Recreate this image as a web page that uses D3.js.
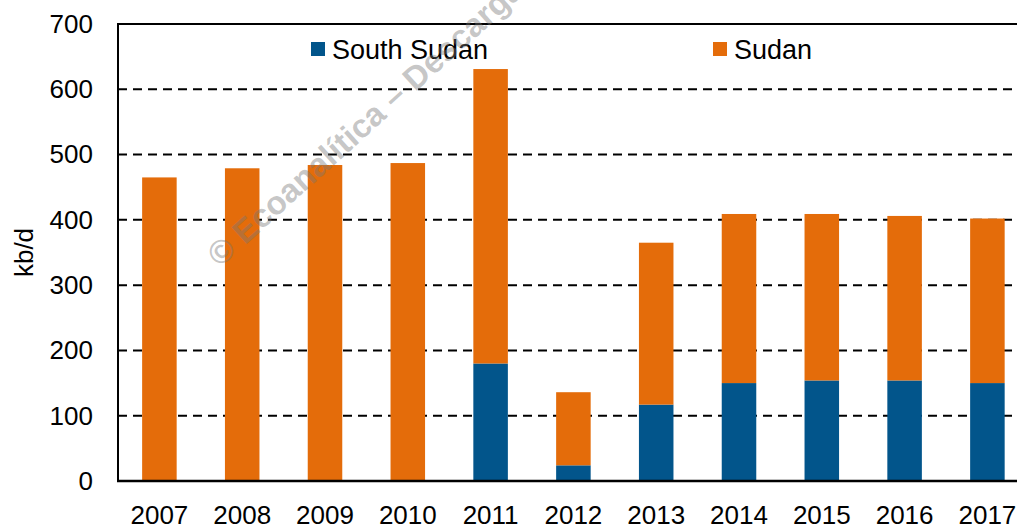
<!DOCTYPE html>
<html>
<head>
<meta charset="utf-8">
<script src="https://cdn.jsdelivr.net/npm/d3@7"></script>
<style>
  body { margin: 0; background: #fff; }
  text { font-family: "Liberation Sans", Arial, sans-serif; }
</style>
</head>
<body>
<div id="chart"></div>
<script>
// data (kb/d)
const years = ["2007", "2008", "2009", "2010", "2011", "2012", "2013", "2014", "2015", "2016", "2017"]
const southSudan = [0, 0, 0, 0, 180, 24, 117, 150, 154, 154, 150]
const sudan = [465, 479, 484, 487, 451, 112, 248, 259, 255, 252, 252]
const seriesNames = ["South Sudan", "Sudan"]
const yTicks = [0, 100, 200, 300, 400, 500, 600, 700]

const colors = { "South Sudan": "#02558b", "Sudan": "#e46c0a" }

const width = 1017, height = 527
const plotLeft = 118, plotTop = 24, plotBottom = 481
const step = 82.8

const rows = years.map((y, i) => ({ year: y, "South Sudan": southSudan[i], "Sudan": sudan[i] }))

const svg = d3.select("#chart").append("svg")
    .attr("width", width)
    .attr("height", height)

const x = d3.scaleBand()
    .domain(years)
    .range([plotLeft, plotLeft + step * years.length])
    .paddingInner(0.583)
    .paddingOuter(0.2915)

const y = d3.scaleLinear()
    .domain([0, 700])
    .range([plotBottom, plotTop])

// dashed gridlines
svg.append("g")
  .selectAll("line")
  .data(yTicks.filter(d => d > 0 && d < 700))
  .join("line")
    .attr("x1", plotLeft)
    .attr("x2", width)
    .attr("y1", d => y(d))
    .attr("y2", d => y(d))
    .attr("stroke", "#000")
    .attr("stroke-width", 2)
    .attr("stroke-dasharray", "9,6")

// stacked bars
const stacked = d3.stack().keys(seriesNames)(rows)
svg.append("g")
  .selectAll("g")
  .data(stacked)
  .join("g")
    .attr("fill", d => colors[d.key])
  .selectAll("rect")
  .data(d => d.filter(s => s[1] - s[0] > 0))
  .join("rect")
    .attr("x", d => x(d.data.year))
    .attr("width", x.bandwidth())
    .attr("y", d => y(d[1]))
    .attr("height", d => y(d[0]) - y(d[1]))

// frame: top border, left axis, bottom axis
svg.append("line").attr("x1", plotLeft).attr("x2", width).attr("y1", plotTop).attr("y2", plotTop)
    .attr("stroke", "#000").attr("stroke-width", 2)
svg.append("line").attr("x1", plotLeft).attr("x2", plotLeft).attr("y1", plotTop - 1).attr("y2", plotBottom)
    .attr("stroke", "#000").attr("stroke-width", 2)
svg.append("line").attr("x1", plotLeft - 1).attr("x2", width).attr("y1", plotBottom).attr("y2", plotBottom)
    .attr("stroke", "#000").attr("stroke-width", 2.5)

// y axis labels
const yAxis = svg.append("g")
    .attr("transform", `translate(${plotLeft},0)`)
    .call(d3.axisLeft(y).tickValues(yTicks).tickSize(0).tickPadding(25))
yAxis.select(".domain").remove()
yAxis.selectAll("text")
    .attr("font-size", 26)
    .attr("fill", "#000")
    .style("font-family", "Liberation Sans, Arial, sans-serif")

// x axis labels
const xAxis = svg.append("g")
    .attr("transform", `translate(0,${plotBottom})`)
    .call(d3.axisBottom(x).tickSize(0).tickPadding(25))
xAxis.select(".domain").remove()
xAxis.selectAll("text")
    .attr("font-size", 26)
    .attr("fill", "#000")
    .style("font-family", "Liberation Sans, Arial, sans-serif")

// y title
svg.append("text")
    .attr("transform", `translate(33,${(plotTop + plotBottom) / 2}) rotate(-90)`)
    .attr("text-anchor", "middle")
    .attr("font-size", 26)
    .text("kb/d")

// legend
const legendX = [311, 713]
const legend = svg.append("g")
  .selectAll("g")
  .data(seriesNames)
  .join("g")
    .attr("transform", (d, i) => `translate(${legendX[i]},42)`)
legend.append("rect")
    .attr("width", 14)
    .attr("height", 14)
    .attr("fill", d => colors[d])
legend.append("text")
    .attr("x", 21)
    .attr("y", 17)
    .attr("font-size", 27)
    .text(d => d)

// watermark
svg.append("text")
    .attr("transform", "translate(220,268) rotate(-42)")
    .attr("font-size", 33)
    .attr("font-weight", "bold")
    .attr("fill", "#777")
    .attr("fill-opacity", 0.42)
    .text("© Ecoanalítica – Descargado")
</script>
</body>
</html>
